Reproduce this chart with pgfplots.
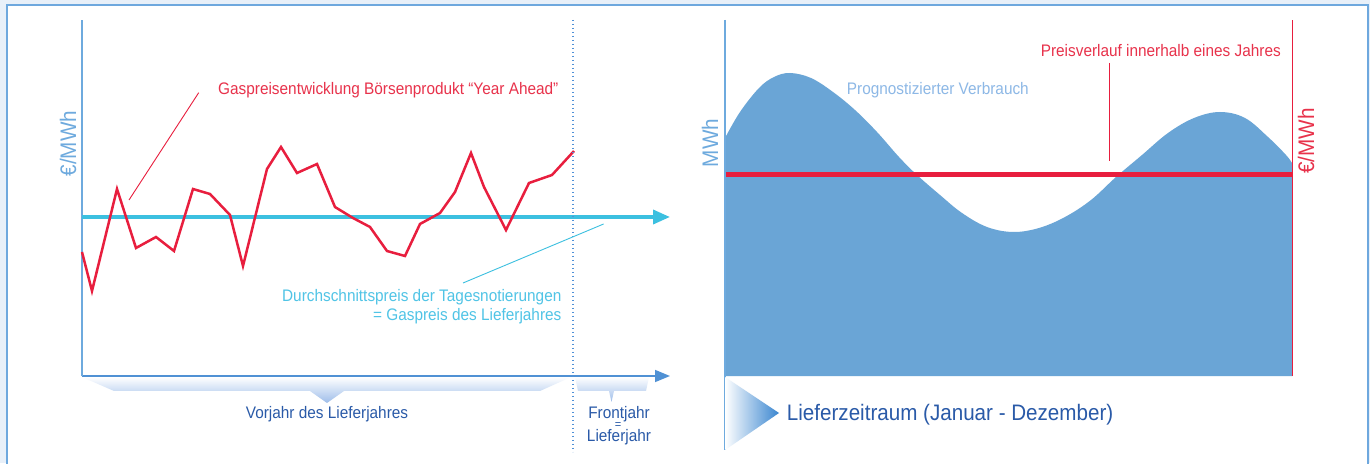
\documentclass[border=0pt]{standalone}
\usepackage{fontspec}
\setmainfont{Liberation Sans}[FakeStretch=0.92]
\usepackage{pgfplots}
\pgfplotsset{compat=1.18}
\usetikzlibrary{arrows.meta}

\definecolor{bgblue}{RGB}{232,240,249}
\definecolor{framecol}{RGB}{110,168,222}
\definecolor{ylight}{RGB}{110,170,222}
\definecolor{xaxcol}{RGB}{80,145,212}
\definecolor{arrowblue}{RGB}{58,134,208}
\definecolor{cyanc}{RGB}{60,192,224}
\definecolor{cyantext}{RGB}{80,196,230}
\definecolor{redc}{RGB}{232,30,62}
\definecolor{redtext}{RGB}{232,50,75}
\definecolor{areablue}{RGB}{106,165,214}
\definecolor{lightlabel}{RGB}{141,184,230}
\definecolor{navy}{RGB}{42,90,168}
\definecolor{dotblue}{RGB}{80,145,215}

\newcommand\sm{\fontsize{16.7}{20}\selectfont}
\newcommand\bg{\fontsize{22.4}{26}\selectfont}
\newcommand\rot{\fontsize{22.5}{26}\selectfont}

\begin{document}
\begin{tikzpicture}[x=1pt,y=1pt]
\path[use as bounding box] (0,0) rectangle (1370,463);
\begin{scope}
  \clip (0,0) rectangle (1370,463);
  \fill[bgblue] (0,0) rectangle (1370,463);
  \filldraw[fill=white, draw=framecol, line width=1.2pt] (7,458) rectangle (1368,-10);
\end{scope}

% brackets under the left x axis
\shade[top color=white, bottom color=blue!12!areablue!60] (82,86) -- (571,86) -- (540,72) -- (344,72) -- (327,60) -- (310,72) -- (114,72) -- cycle;
\shade[top color=white, bottom color=blue!12!areablue!60] (575,86) -- (649,86) -- (646,72) -- (614,72) -- (611.5,61) -- (609,72) -- (578,72) -- cycle;

% left panel: price of the year-ahead product
\begin{axis}[
    at={(82pt,87pt)}, anchor=south west,
    scale only axis, width=588pt, height=356pt,
    xmin=0, xmax=588, ymin=0, ymax=356,
    axis lines=left, xtick=\empty, ytick=\empty,
    clip=false,
    x axis line style={-{Triangle[length=15pt,width=12pt]}, color=xaxcol, line width=1.5pt},
    y axis line style={-, color=ylight, line width=1.5pt},
]
\addplot[cyanc, line width=3.5pt, -{Triangle[length=17pt,width=14pt]}]
    coordinates {(0,159) (588,159)};
\addplot[redc, line width=2.5pt, line join=miter]
    coordinates {
    (0,124)(10,85)(35,187)(54,128)(74,139)(92,125)(111,187)(128,182)
    (148,161)(161,110)(185,207)(199,229)(215,203)(235,212)(253,169)
    (271,158)(288,149)(305,125)(323,120)(338,152)(358,163)(373,184)
    (389,223)(402,189)(424,146)(447,193)(470,201)(492,225)
    };
\end{axis}

% right panel: forecast consumption and price within the year
\begin{axis}[
    at={(725pt,87pt)}, anchor=south west,
    scale only axis, width=567pt, height=356pt,
    xmin=0, xmax=567, ymin=0, ymax=356,
    axis lines=none, clip=false,
]
\addplot[fill=areablue, draw=none, smooth, tension=0.6]
    coordinates {
    (0,238)(15,264)(34,288)(49,299)(65,303)(86,298)(108,284)(130,266)
    (152,244)(174,219)(192,201)(215,181)(237,163)(262,149)(288,144)
    (314,148)(340,159)(366,176)(391,199)(417,221)(443,243)(469,258)
    (495,264)(520,258)(543,239)(561,221)(567,213)
    } \closedcycle;
\addplot[redc, line width=5pt] coordinates {(0,201.5) (567,201.5)};
\draw[redc, line width=1pt] (axis cs:567,0) -- (axis cs:567,356);
\draw[ylight, line width=1.2pt] (axis cs:0,356) -- (axis cs:0,-74);
\end{axis}

% dotted separator
\draw[dotblue, line width=1.3pt, dash pattern=on 1.3pt off 2.7pt] (573,443) -- (573,11);

% leader lines
\draw[redc, line width=0.9pt] (198.7,370.3) -- (129,263);
\draw[cyanc, line width=0.9pt] (603.6,239) -- (463,180);
\draw[redc, line width=0.9pt] (1109.6,400) -- (1109.6,302);

% delivery period triangle
\shade[left color=white, right color=arrowblue] (725,86) -- (779,50) -- (725,13) -- cycle;

% texts
\node[redtext, anchor=base west, inner sep=0] at (218,368) {\sm Gaspreisentwicklung Börsenprodukt “Year Ahead”};
\node[cyantext, anchor=base east, inner sep=0] at (561.6,161) {\sm Durchschnittspreis der Tagesnotierungen};
\node[cyantext, anchor=base east, inner sep=0] at (561.6,142) {\sm = Gaspreis des Lieferjahres};
\node[navy, anchor=base, inner sep=0] at (327,44) {\sm Vorjahr des Lieferjahres};
\node[navy, anchor=base, inner sep=0] at (619,45) {\sm Frontjahr};
\node[navy, anchor=base, inner sep=0] at (619,22) {\sm Lieferjahr};
\node[navy, inner sep=0] at (618,37) {\fontsize{12}{13}\selectfont =};
\node[ylight, rotate=90, anchor=base, inner sep=0] at (76,319.5) {\rot €/MWh};

\node[lightlabel, anchor=base west, inner sep=0] at (846.7,368.7) {\sm Prognostizierter Verbrauch};
\node[redtext, anchor=base east, inner sep=0] at (1281,406.3) {\sm Preisverlauf innerhalb eines Jahres};
\node[ylight, rotate=90, anchor=base, inner sep=0] at (718,320) {\rot MWh};
\node[redtext, rotate=90, anchor=base, inner sep=0] at (1314,322) {\rot €/MWh};
\node[navy, anchor=base west, inner sep=0] at (786.7,42) {\bg Lieferzeitraum (Januar - Dezember)};
\end{tikzpicture}
\end{document}
